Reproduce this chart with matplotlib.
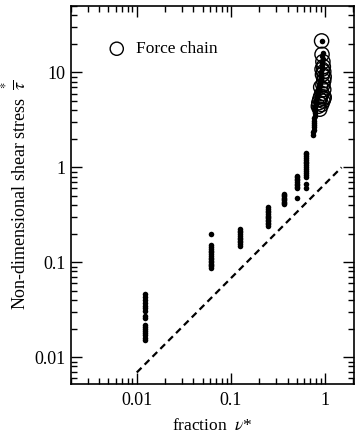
import matplotlib
matplotlib.use("Agg")
import matplotlib.pyplot as plt
from matplotlib.ticker import LogLocator, NullFormatter, FixedLocator, FixedFormatter

plt.rcParams['font.family'] = ['Liberation Serif', 'DejaVu Serif']
plt.rcParams['mathtext.fontset'] = 'stix'

# --- data ---
col1_x = 0.0123
col1_y = [0.015, 0.016, 0.017, 0.018, 0.019, 0.020, 0.021, 0.022, 0.026, 0.027,
          0.031, 0.033, 0.035, 0.037, 0.040, 0.043, 0.046]
col2_x = 0.062
col2_y = [0.088, 0.091, 0.094, 0.097, 0.10, 0.104, 0.108, 0.112, 0.117, 0.122,
          0.127, 0.133, 0.139, 0.146, 0.152, 0.20]
col3_x = 0.124
col3_y = [0.15, 0.156, 0.162, 0.168, 0.175, 0.182, 0.19, 0.198, 0.206, 0.215, 0.225]
col4_x = 0.25
col4_y = [0.24, 0.25, 0.26, 0.27, 0.28, 0.29, 0.30, 0.31, 0.32, 0.335, 0.35, 0.365, 0.38]
col5_x = 0.37
col5_y = [0.41, 0.42, 0.435, 0.45, 0.465, 0.48, 0.495, 0.51, 0.53]
col6_x = 0.51
col6_y = [0.48, 0.60, 0.62, 0.645, 0.67, 0.70, 0.73, 0.76, 0.79, 0.82]
col7_x = 0.635
col7_y = [0.60, 0.66, 0.80, 0.84, 0.88, 0.92, 0.96, 1.0, 1.05, 1.1, 1.15, 1.2, 1.26,
          1.32, 1.38, 1.43]
col8_x = [0.75, 0.75, 0.755, 0.76, 0.76, 0.765, 0.77, 0.77, 0.775, 0.78, 0.78, 0.785,
          0.79, 0.80, 0.80, 0.81, 0.82, 0.83, 0.84, 0.85, 0.86, 0.87, 0.88, 0.89,
          0.90, 0.90, 0.91, 0.91, 0.92, 0.92, 0.93, 0.94, 0.95, 0.93, 0.96, 0.92]
col8_y = [2.2, 2.35, 2.5, 2.65, 2.8, 2.95, 3.1, 3.3, 3.5, 3.7, 3.9, 4.1, 4.3, 4.5,
          4.8, 5.1, 5.4, 5.7, 6.0, 6.4, 6.8, 7.2, 7.6, 8.0, 8.5, 9.0, 9.6, 10.2, 10.8,
          11.5, 12.2, 13.0, 14.0, 15.0, 16.0, 21.5]
chain_x = [0.92, 0.93, 0.95, 0.96, 0.93, 0.97, 0.98, 0.94, 0.97, 0.95, 0.97, 0.93,
           0.98, 0.90, 0.88, 0.86, 0.85, 0.88, 0.92, 0.95, 0.97, 0.90]
chain_y = [21.5, 15.5, 13.0, 11.5, 10.8, 10.2, 9.0, 9.5, 8.2, 7.4, 6.6, 6.0,
           5.5, 5.6, 5.2, 4.8, 4.4, 4.1, 4.6, 5.0, 5.3, 7.0]
line_x = [0.01, 1.5]
line_y = [0.0069, 1.0]

fig = plt.figure(figsize=(3.55, 4.37), dpi=100)
ax = fig.add_axes([0.2, 0.121, 0.797, 0.865])
ax.set_xscale('log')
ax.set_yscale('log')

dot_kw = dict(color='black', s=16, linewidths=0, zorder=3)
for cx, cy in [(col1_x, col1_y), (col2_x, col2_y), (col3_x, col3_y), (col4_x, col4_y),
               (col5_x, col5_y), (col6_x, col6_y), (col7_x, col7_y)]:
    ax.scatter([cx] * len(cy), cy, **dot_kw)
ax.scatter(col8_x, col8_y, **dot_kw)
ax.scatter(chain_x, chain_y, s=105, facecolors='none', edgecolors='black',
           linewidths=1.0, zorder=4)
ax.plot(line_x, line_y, color='black', lw=1.6, dashes=(3.0, 2.0), zorder=2)

# legend
h = ax.scatter([], [], s=90, facecolors='none', edgecolors='black', linewidths=1.0)
ax.legend([h], ['Force chain'], loc='center left', bbox_to_anchor=(0.131, 0.886),
          frameon=False, fontsize=12.5, handlelength=1.0, handletextpad=0.6,
          borderaxespad=0, borderpad=0)

ax.set_xlim(0.002, 2.03)
ax.set_ylim(0.0052, 50)

ax.xaxis.set_major_locator(FixedLocator([0.01, 0.1, 1]))
ax.xaxis.set_major_formatter(FixedFormatter(['0.01', '0.1', '1']))
ax.yaxis.set_major_locator(FixedLocator([0.01, 0.1, 1, 10]))
ax.yaxis.set_major_formatter(FixedFormatter(['0.01', '0.1', '1', '10']))
for a in (ax.xaxis, ax.yaxis):
    a.set_minor_locator(LogLocator(base=10, subs=range(2, 10), numticks=20))
    a.set_minor_formatter(NullFormatter())

ax.tick_params(which='both', direction='in', top=True, right=True, labelsize=13,
               width=1.0, colors='black')
ax.tick_params(which='major', length=8)
ax.tick_params(which='minor', length=4)
ax.tick_params(axis='x', pad=6)
ax.tick_params(axis='y', pad=4)
for s in ax.spines.values():
    s.set_linewidth(1.2)

ax.set_xlabel(r'fraction  $\nu$*', fontsize=12.5, labelpad=6)
ax.set_ylabel(r'Non-dimensional shear stress  $\overset{*}{\overline{\tau}}$',
              fontsize=13, labelpad=3)

fig.savefig('out.png', dpi=100)
